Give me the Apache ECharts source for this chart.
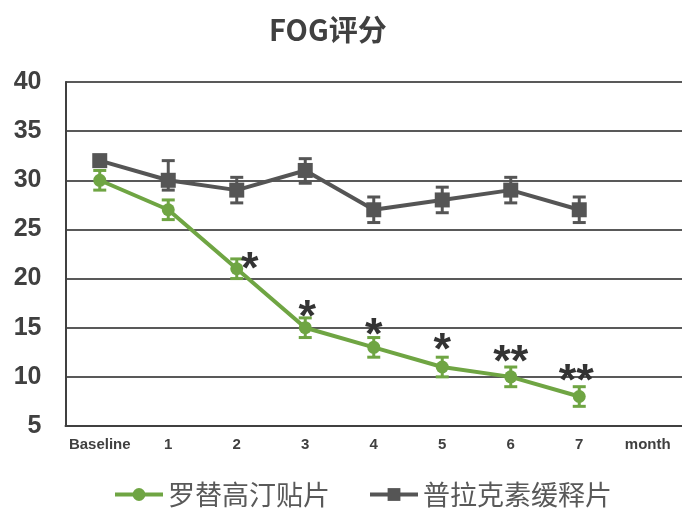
<!DOCTYPE html>
<html>
<head>
<meta charset="utf-8">
<script src="https://cdn.jsdelivr.net/npm/echarts@6/dist/echarts.min.js"></script>
<style>
  html, body { margin: 0; padding: 0; background: #ffffff; }
  #chart { width: 682px; height: 509px; }
</style>
</head>
<body>
<div id="chart"></div>
<script>
// FOG score over time for the two treatment groups
const months = ['Baseline', '1', '2', '3', '4', '5', '6', '7', 'month'];
const seriesNames = ['罗替高汀贴片', '普拉克素缓释片'];

const rotigotine = [30, 27, 21, 15, 13, 11, 10, 8];
const rotigotineErr = [1, 1, 1, 1, 1, 1, 1, 1];

const pramipexole = [32, 30, 29, 31, 27, 28, 29, 27];
const pramipexoleErrUp = [0.5, 2, 1.3, 1.2, 1.3, 1.3, 1.3, 1.3];
const pramipexoleErrDown = [0.5, 1, 1.3, 1.3, 1.3, 1.3, 1.3, 1.3];

// significance markers for the rotigotine group
const significance = ['', '', '*', '*', '*', '*', '**', '**'];

const yMin = 5, yMax = 40, yStep = 5;

const GREEN = '#6fa543';
const GREY = '#555555';
const TEXT = '#404040';
const LATIN = '"Liberation Sans", Arial, sans-serif';
const CJK = '"Noto Sans CJK SC", "Liberation Sans", sans-serif';

// pixel nudges for each significance marker, relative to its point
const markNudge = [[0, 0], [0, 0], [13, -8], [2, -19], [0, -21], [0, -25], [0, -23], [-3, -24]];

function errorRows(values, up, down) {
  return values.map((v, i) => [i, v, v - down[i], v + up[i]]);
}

function errorBarItem(color, capWidth) {
  return function (params, api) {
    const x = api.value(0);
    const lo = api.coord([x, api.value(2)]);
    const hi = api.coord([x, api.value(3)]);
    const half = capWidth / 2;
    const style = { stroke: color, lineWidth: 3 };
    return {
      type: 'group',
      children: [
        { type: 'line', shape: { x1: hi[0], y1: hi[1], x2: lo[0], y2: lo[1] }, style },
        { type: 'line', shape: { x1: hi[0] - half, y1: hi[1], x2: hi[0] + half, y2: hi[1] }, style },
        { type: 'line', shape: { x1: lo[0] - half, y1: lo[1], x2: lo[0] + half, y2: lo[1] }, style }
      ]
    };
  };
}

const chart = echarts.init(document.getElementById('chart'), null, { renderer: 'canvas' });

chart.setOption({
  animation: false,
  backgroundColor: '#ffffff',
  title: {
    text: 'FOG评分',
    left: 264,
    top: 10,
    textStyle: { fontFamily: CJK, fontSize: 29, fontWeight: 'bold', color: TEXT }
  },
  legend: {
    data: seriesNames,
    left: 108,
    top: 476,
    itemWidth: 48,
    itemHeight: 16,
    itemGap: 38,
    lineStyle: { width: 4 },
    textStyle: { fontFamily: CJK, fontSize: 27, color: '#595959' }
  },
  grid: { left: 65.5, right: -4.5, top: 82, bottom: 83, containLabel: false },
  xAxis: {
    type: 'category',
    data: months,
    boundaryGap: true,
    axisLine: { lineStyle: { color: TEXT, width: 2 } },
    axisTick: { show: false },
    axisLabel: {
      interval: 0, margin: 11,
      fontFamily: LATIN, fontSize: 15, fontWeight: 'bold', color: TEXT
    }
  },
  yAxis: {
    type: 'value',
    min: yMin, max: yMax, interval: yStep,
    axisLine: { show: true, lineStyle: { color: TEXT, width: 2 } },
    axisTick: { show: false },
    splitLine: { lineStyle: { color: '#595959', width: 2 } },
    axisLabel: {
      margin: 24,
      fontFamily: LATIN, fontSize: 25, fontWeight: 'bold', color: TEXT
    }
  },
  series: [
    {
      type: 'custom',
      name: 'rotigotine-err',
      renderItem: errorBarItem(GREEN, 13),
      data: errorRows(rotigotine, rotigotineErr, rotigotineErr),
      encode: { x: 0, y: [2, 3] },
      z: 3,
      silent: true
    },
    {
      type: 'custom',
      name: 'pramipexole-err',
      renderItem: errorBarItem(GREY, 13),
      data: errorRows(pramipexole, pramipexoleErrUp, pramipexoleErrDown),
      encode: { x: 0, y: [2, 3] },
      z: 3,
      silent: true
    },
    {
      type: 'line',
      name: seriesNames[0],
      data: rotigotine,
      symbol: 'circle',
      symbolSize: 13,
      itemStyle: { color: GREEN },
      lineStyle: { color: GREEN, width: 4 },
      z: 4
    },
    {
      type: 'line',
      name: seriesNames[1],
      data: pramipexole,
      symbol: 'rect',
      symbolSize: 15,
      itemStyle: { color: GREY },
      lineStyle: { color: GREY, width: 4 },
      z: 5
    },
    {
      type: 'custom',
      name: 'significance',
      data: rotigotine.map((v, i) => [i, v]),
      encode: { x: 0, y: 1 },
      z: 6,
      silent: true,
      renderItem: function (params, api) {
        const i = api.value(0);
        const mark = significance[i];
        if (!mark) return null;
        const p = api.coord([i, api.value(1)]);
        const n = markNudge[i];
        // glyph centre of '*' sits about 10px above the text's middle at this size
        return {
          type: 'text',
          style: {
            text: mark,
            x: p[0] + n[0],
            y: p[1] + n[1] + 10,
            align: 'center',
            verticalAlign: 'middle',
            fontFamily: LATIN,
            fontSize: 45,
            fontWeight: 'bold',
            fill: '#333333'
          }
        };
      }
    }
  ]
});
</script>
</body>
</html>
